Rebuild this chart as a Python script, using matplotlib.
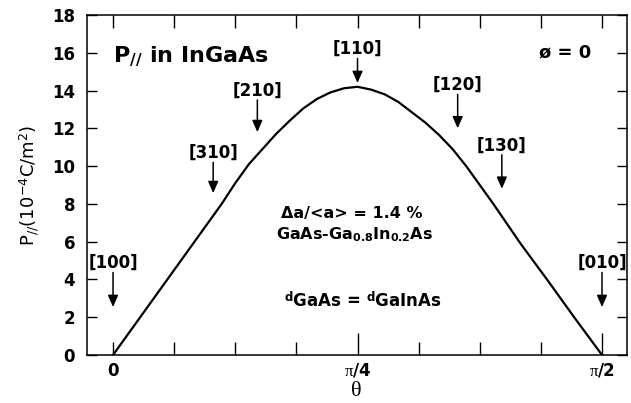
import numpy as np
import matplotlib
matplotlib.use("Agg")
import matplotlib.pyplot as plt

# In-plane polarization P// versus in-plane angle theta (degrees)
theta_deg = [0, 5, 10, 15, 20, 22.5, 25, 27.5, 30, 32.5, 35, 37.5, 40, 42.5, 45,
             47.5, 50, 52.5, 55, 57.5, 60, 62.5, 65, 67.5, 70, 72.5, 75, 80, 85, 90]
p_par = [0, 2.0, 4.0, 6.0, 8.0, 9.1, 10.1, 10.9, 11.7, 12.4, 13.05, 13.55, 13.9, 14.12, 14.2,
         14.05, 13.8, 13.4, 12.85, 12.3, 11.65, 10.9, 10.0, 9.0, 8.0, 6.95, 5.9, 3.95, 1.95, 0]

# Crystal directions marked by arrows (Miller indices h, k)
directions = ["[100]", "[310]", "[210]", "[110]", "[120]", "[130]", "[010]"]
miller_h = [1, 3, 2, 1, 1, 1, 0]
miller_k = [0, 1, 1, 1, 2, 3, 1]

y_ticks = [0, 2, 4, 6, 8, 10, 12, 14, 16, 18]
x_tick_pos = [0, 45, 90]
x_tick_labels = [r"$\mathbf{0}$", r"$\pi\mathbf{/4}$", r"$\pi\mathbf{/2}$"]

plt.rcParams.update({
    "font.family": ["DejaVu Sans"],
    "mathtext.fontset": "custom",
    "mathtext.rm": "DejaVu Sans",
    "mathtext.bf": "DejaVu Sans:bold",
    "mathtext.sf": "DejaVu Sans",
    "mathtext.it": "Liberation Serif",
})

fig = plt.figure(figsize=(6.31, 4.03), dpi=100)
ax = fig.add_axes([87 / 631, 48 / 403, 540 / 631, 340 / 403])

ax.plot(theta_deg, p_par, color="black", lw=1.6, solid_joinstyle="round")

ax.set_xlim(-4.79, 94.6)
ax.set_ylim(0, 18)

for s in ax.spines.values():
    s.set_linewidth(1.1)

# ticks
ax.set_yticks(y_ticks)
ax.set_yticklabels([str(v) for v in y_ticks])
ax.set_xticks(x_tick_pos)
ax.set_xticklabels(x_tick_labels)
ax.set_xticks([11.25 * i for i in range(9) if i % 4 != 0], minor=True)
ax.tick_params(axis="y", which="major", direction="in", left=True, right=True,
               length=7, width=1.0, pad=8.5, labelsize=12)
ax.tick_params(axis="x", which="major", direction="in", bottom=True, top=True,
               length=16, width=1.0, pad=5, labelsize=12)
ax.tick_params(axis="x", which="minor", direction="in", bottom=True, top=True,
               length=9.5, width=1.0)
for lab in ax.get_yticklabels():
    lab.set_fontweight("bold")
for i, t in enumerate(ax.xaxis.get_major_ticks()):
    t.tick2line.set_markersize(9.5)
    if i == 0:
        t.tick1line.set_markersize(9.5)

ax.set_xlabel(r"$\theta$", fontsize=16)
ax.xaxis.set_label_coords(0.498, -0.075)
ax.set_ylabel(r"P$_{\mathrm{//}}$(10$^{\mathrm{-4}}$C/m$^{\mathrm{2}}$)", fontsize=13)
ax.yaxis.set_label_coords(-0.085, 0.5)

# direction labels with arrows
label_y = [4.87, 10.7, 14.0, 16.2, 14.3, 11.1, 4.87]
arrow_head = [2.54, 8.57, 11.8, 14.4, 12.0, 8.8, 2.54]
direction_theta = np.degrees(np.arctan2(miller_k, miller_h))
for name, th, ly, hy in zip(directions, direction_theta, label_y, arrow_head):
    ax.text(th, ly, name, ha="center", va="center", fontsize=12, fontweight="bold")
    ax.annotate("", xy=(th, hy), xytext=(th, ly - 0.5),
                arrowprops=dict(arrowstyle="-|>,head_length=0.5,head_width=0.22",
                                color="black", lw=1.1, mutation_scale=14,
                                shrinkA=0, shrinkB=0))

# annotations
ax.text(0, 15.5, r"P$_{\mathbf{//}}$ in InGaAs", ha="left", va="baseline",
        fontsize=16, fontweight="bold")
ax.text(83.2, 16.0, "ø = 0", ha="center", va="center", fontsize=13, fontweight="bold")
ax.text(44.0, 7.25, "Δa/<a> = 1.4 %", ha="center", va="baseline",
        fontsize=11.5, fontweight="bold")
ax.text(44.5, 6.1, r"GaAs-Ga$_{\mathbf{0.8}}$In$_{\mathbf{0.2}}$As", ha="center",
        va="baseline", fontsize=11.5, fontweight="bold")
ax.text(46.0, 2.54, r"$^{\mathbf{d}}$GaAs = $^{\mathbf{d}}$GaInAs", ha="center",
        va="baseline", fontsize=12, fontweight="bold")

fig.savefig("out.png", dpi=100)
